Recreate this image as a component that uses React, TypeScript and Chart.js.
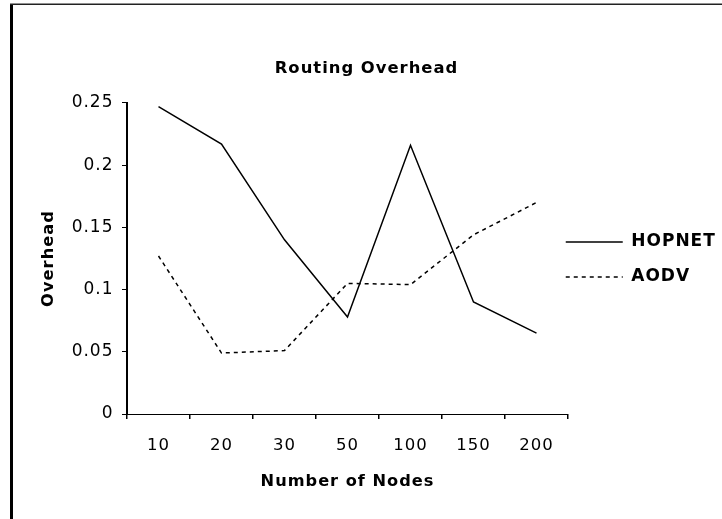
import React, { useEffect, useRef } from 'react';
import { Chart, registerables } from 'chart.js';

Chart.register(...registerables);

// ---- data ----
const categories = ['10', '20', '30', '50', '100', '150', '200'];
const hopnetValues = [0.247, 0.217, 0.14, 0.078, 0.216, 0.09, 0.065];
const aodvValues = [0.127, 0.049, 0.051, 0.105, 0.104, 0.144, 0.17];
const yTickValues = [0, 0.05, 0.1, 0.15, 0.2, 0.25];
const yTickLabels = ['0', '0.05', '0.1', '0.15', '0.2', '0.25'];
const seriesNames = ['HOPNET', 'AODV'];
const chartTitle = 'Routing Overhead';
const xAxisTitle = 'Number of Nodes';
const yAxisTitle = 'Overhead';

const FONT = '"DejaVu Sans", "Liberation Sans", sans-serif';
const LETTER_SPACING = '1px';
const LEGEND_SHIFT = 20.25;

export default function App() {
  const canvasRef = useRef<HTMLCanvasElement | null>(null);

  useEffect(() => {
    const canvas = canvasRef.current;
    if (!canvas) return;

    const framePlugin = {
      id: 'frameAndSpacing',
      beforeUpdate(chart: any) {
        chart.ctx.letterSpacing = LETTER_SPACING;
      },
      afterLayout(chart: any) {
        const lg = chart.legend;
        if (lg) {
          lg.left -= LEGEND_SHIFT;
          lg.width += LEGEND_SHIFT;
        }
      },
      beforeDraw(chart: any) {
        const ctx = chart.ctx;
        ctx.letterSpacing = LETTER_SPACING;
        ctx.save();
        ctx.fillStyle = '#ffffff';
        ctx.fillRect(0, 0, chart.width, chart.height);
        ctx.fillStyle = '#000000';
        ctx.fillRect(10, 4, 3, chart.height - 4);
        ctx.fillStyle = '#222222';
        ctx.fillRect(10, 3.5, chart.width - 10, 1.5);
        ctx.restore();
      },
    };

    const chart = new Chart(canvas, {
      type: 'line',
      data: {
        labels: categories,
        datasets: [
          {
            label: seriesNames[0],
            data: hopnetValues,
            borderColor: '#000000',
            backgroundColor: '#000000',
            borderWidth: 1.5,
            pointRadius: 0,
            pointStyle: 'line',
            tension: 0,
            fill: false,
          },
          {
            label: seriesNames[1],
            data: aodvValues,
            borderColor: '#000000',
            backgroundColor: '#000000',
            borderWidth: 1.5,
            borderDash: [4, 4],
            pointRadius: 0,
            pointStyle: 'line',
            tension: 0,
            fill: false,
          },
        ],
      },
      options: {
        responsive: false,
        animation: false,
        devicePixelRatio: 1,
        layout: { padding: { left: 11, top: 0, right: 0, bottom: 0 } },
        plugins: {
          tooltip: { enabled: false },
          title: {
            display: true,
            text: chartTitle,
            color: '#000000',
            font: { family: FONT, size: 16.4, weight: 'bold' },
            padding: { top: 59, bottom: 24.3 },
          },
          legend: {
            display: true,
            position: 'right',
            align: 'center',
            maxWidth: 154,
            labels: {
              color: '#000000',
              font: { family: FONT, size: 17, weight: 'bold' },
              usePointStyle: true,
              pointStyle: 'line',
              pointStyleWidth: 57,
              boxWidth: 57,
              padding: 18,
              generateLabels(chart: any) {
                const items = (Chart.defaults.plugins.legend.labels as any).generateLabels(chart);
                return items.map((it: any) => {
                  const ds = chart.data.datasets[it.datasetIndex];
                  return {
                    ...it,
                    lineDash: ds.borderDash || [],
                    lineWidth: ds.borderWidth,
                    strokeStyle: ds.borderColor,
                    fillStyle: ds.borderColor,
                  };
                });
              },
            },
          },
        },
        scales: {
          x: {
            type: 'category',
            offset: true,
            grid: {
              offset: true,
              drawOnChartArea: false,
              drawTicks: true,
              tickLength: 5,
              color: '#000000',
              lineWidth: 1.5,
            },
            border: { display: true, color: '#000000', width: 1 },
            ticks: {
              color: '#000000',
              font: { family: FONT, size: 16.5 },
              padding: 16.8,
              maxRotation: 0,
              autoSkip: false,
            },
            title: {
              display: true,
              text: xAxisTitle,
              color: '#000000',
              font: { family: FONT, size: 16.2, weight: 'bold' },
              padding: { top: 0, bottom: 27.5 },
            },
            afterFit(scale: any) {
              scale.height = 105;
            },
          },
          y: {
            type: 'linear',
            min: 0,
            max: 0.25,
            afterBuildTicks(scale: any) {
              scale.ticks = yTickValues.map((v) => ({ value: v }));
            },
            grid: {
              drawOnChartArea: false,
              drawTicks: true,
              tickLength: 5,
              color: '#000000',
              lineWidth: 1,
            },
            border: { display: true, color: '#000000', width: 2 },
            ticks: {
              color: '#000000',
              font: { family: FONT, size: 17 },
              padding: 8.5,
              callback: (_v: any, i: number) => yTickLabels[i],
            },
            title: {
              display: true,
              text: yAxisTitle,
              color: '#000000',
              font: { family: FONT, size: 16.3, weight: 'bold' },
              padding: { top: 27.7, bottom: 0 },
            },
            afterFit(scale: any) {
              scale.width = 116;
            },
          },
        },
      },
      plugins: [framePlugin],
    } as any);

    return () => {
      chart.destroy();
    };
  }, []);

  return (
    <div style={{ position: 'absolute', left: 0, top: 0, width: 722, height: 519, background: '#fff' }}>
      <canvas ref={canvasRef} width={722} height={519} style={{ display: 'block' }} />
    </div>
  );
}
